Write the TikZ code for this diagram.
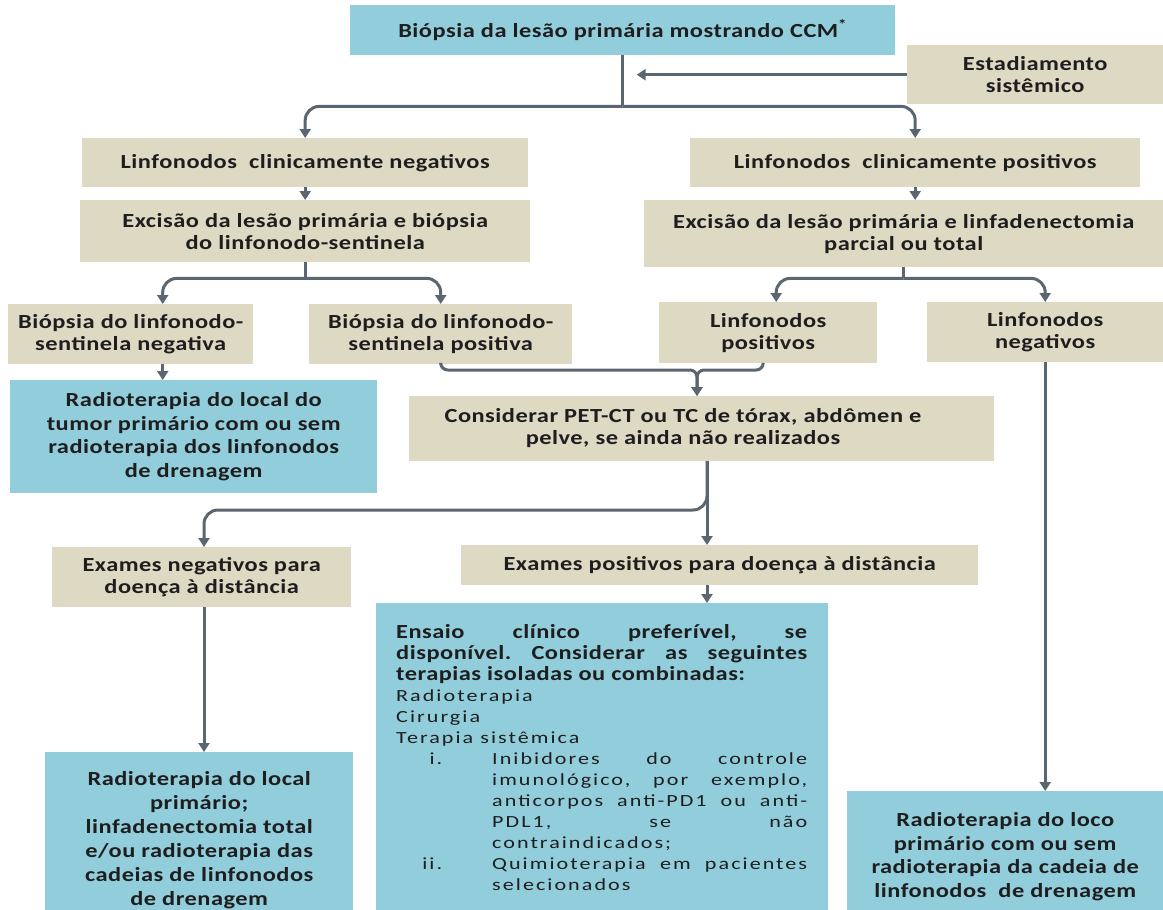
\documentclass[tikz,border=0pt]{standalone}
\usepackage{fontspec}
\setmainfont{Carlito}[FakeStretch=1.22,LetterSpace=2.5]
\newfontfamily\regfont{Carlito}[FakeStretch=1.3,LetterSpace=12]
\usetikzlibrary{arrows.meta}
\definecolor{cblue}{HTML}{92CDDC}
\definecolor{cbeige}{HTML}{DDD9C3}
\definecolor{lc}{HTML}{5B6770}
\definecolor{txt}{HTML}{1E1E1E}
\newcommand\itemline[2]{\makebox[46pt][r]{#1}\hspace{50pt}#2\par}
\frenchspacing
\begin{document}
\begin{tikzpicture}[x=1pt,y=-1pt,
 box/.style={inner sep=0pt, anchor=north west, align=center, text=txt, font=\bfseries\fontsize{20}{22}\selectfont},
 bbox/.style={box, fill=cblue},
 gbox/.style={box, fill=cbeige},
 lbl/.style={text=txt, align=center, inner sep=0pt, font=\bfseries\fontsize{20}{22}\selectfont},
 conn/.style={draw=lc, line width=3pt, rounded corners=14pt},
 arr/.style={conn, -{Triangle[length=9pt,width=11pt]}},
]
\useasboundingbox (0,0) rectangle (1163,910);
\fill[white] (0,0) rectangle (1163,910);

\node[bbox, minimum width=545pt, minimum height=50pt] (n1) at (350,5) {Biópsia da lesão primária mostrando CCM\textsuperscript{*}};
\node[gbox, minimum width=256pt, minimum height=59pt] (n2) at (907,45) {Estadiamento\\sistêmico};
\node[gbox, minimum width=446pt, minimum height=49pt] (n3) at (82,138) {Linfonodos\ \ clinicamente negativos};
\node[gbox, minimum width=450pt, minimum height=49pt] (n4) at (690,138) {Linfonodos\ \ clinicamente positivos};
\node[gbox, minimum width=450pt, minimum height=62pt] (n5) at (80,200) {Excisão da lesão primária e biópsia\\do linfonodo-sentinela};
\node[gbox, minimum width=519pt, minimum height=67pt] (n6) at (644,200) {Excisão da lesão primária e linfadenectomia\\parcial ou total};
\node[gbox, minimum width=245pt, minimum height=60pt] (n7) at (8,304) {Biópsia do linfonodo-\\sentinela negativa};
\node[gbox, minimum width=263pt, minimum height=60pt] (n8) at (309,304) {Biópsia do linfonodo-\\sentinela positiva};
\node[gbox, minimum width=218pt, minimum height=61pt] (n9) at (659,302) {Linfonodos\\positivos};
\node[gbox, minimum width=236pt, minimum height=60pt] (n10) at (927,302) {Linfonodos\\negativos};
\node[bbox, minimum width=367pt, minimum height=113pt, font=\bfseries\fontsize{20}{23.5}\selectfont] (n11) at (10,380) {Radioterapia do local do\\tumor primário com ou sem\\radioterapia dos linfonodos\\de drenagem};
\node[gbox, minimum width=585pt, minimum height=65pt] (n12) at (409,396) {};
\node[lbl] (n12t) at (683,428) {Considerar PET-CT ou TC de tórax, abdômen e\\pelve, se ainda não realizados};
\node[gbox, minimum width=299pt, minimum height=60pt] (n13) at (52,547) {Exames negativos para\\doença à distância};
\node[gbox, minimum width=517pt, minimum height=40pt] (n14) at (461,545) {Exames positivos para doença à distância};
\node[bbox, minimum width=452pt, minimum height=320pt] (n15) at (376,603) {};
\node[anchor=north west, inner sep=0pt, text=txt] (n15t) at (396,624) {\begin{minipage}[t]{411pt}\setlength{\parindent}{0pt}\setlength{\parskip}{0pt}%
\fontsize{20}{21}\selectfont\bfseries
\makebox[411pt][s]{Ensaio clínico preferível, se}\par
\makebox[411pt][s]{disponível. Considerar as seguintes}\par
terapias isoladas ou combinadas:\par
\mdseries\regfont\fontsize{17}{21}\selectfont
Radioterapia\par
Cirurgia\par
Terapia sistêmica\par
\itemline{i.}{\makebox[315pt][s]{Inibidores do controle}}
\itemline{}{\makebox[315pt][s]{imunológico, por exemplo,}}
\itemline{}{\makebox[315pt][s]{anticorpos anti-PD1 ou anti-}}
\itemline{}{\makebox[315pt][s]{PDL1, se não}}
\itemline{}{contraindicados;}
\itemline{ii.}{\makebox[315pt][s]{Quimioterapia em pacientes}}
\itemline{}{selecionados}
\end{minipage}};
\node[bbox, minimum width=308pt, minimum height=176pt, font=\bfseries\fontsize{20}{24}\selectfont] (n16) at (45,752) {Radioterapia do local\\primário;\\linfadenectomia total\\e/ou radioterapia das\\cadeias de linfonodos\\de drenagem};
\node[bbox, minimum width=316pt, minimum height=131pt, font=\bfseries\fontsize{20}{23.5}\selectfont] (n17) at (847,791) {Radioterapia do loco\\primário com ou sem\\radioterapia da cadeia de\\linfonodos\ \ de drenagem};

% connectors
\path (n1.south) ++(0,51) coordinate (j1);
\draw[conn] (n1.south) -- (j1);
\draw[arr] (j1) -| (n3.north);
\draw[arr] (j1) -| (n4.north);
\draw[arr, line width=2.5pt] (n2.west) -- ([xshift=14pt]n2.west -| j1);
\draw[arr] (n3.south) -- (n5.north);
\draw[arr] (n4.south) -- (n4.south |- n6.north);
\path (n5.south) ++(0,16) coordinate (j5);
\draw[conn] (n5.south) -- (j5);
\draw[arr] (j5) -| ([xshift=32pt]n7.north);
\draw[arr] (j5) -| (n8.north);
\path (n6.south) ++(0,11) coordinate (j6);
\draw[conn] (n6.south) -- (j6);
\draw[arr] (j6) -| ([xshift=8pt]n9.north);
\draw[arr] (j6) -| (n10.north);
\draw[arr] ([xshift=32pt]n7.south) -- ([xshift=32pt]n7.south |- n11.north);
\coordinate (m) at (697,370);
\draw[arr, rounded corners=7pt] (n8.south) |- (m) -- (m |- n12.north);
\draw[arr, rounded corners=7pt] ([xshift=-5pt]n9.south) |- (m) -- (m |- n12.north);
\draw[arr] (n10.south) -- (n10.south |- n17.north);
\coordinate (s12) at (707,461);
\coordinate (k) at (204,510);
\draw[arr] (s12) -- (s12 |- n14.north);
\draw[arr] (s12) |- (k) -- (k |- n13.north);
\draw[arr] (s12 |- n14.south) -- (s12 |- n15.north);
\draw[arr] (k |- n13.south) -- (k |- n16.north);
\end{tikzpicture}
\end{document}
